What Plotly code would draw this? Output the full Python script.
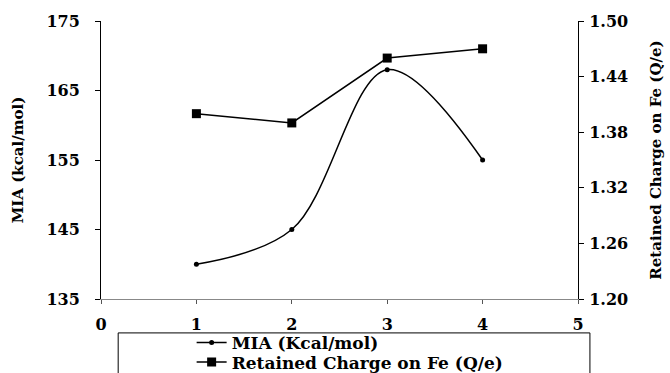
import plotly.graph_objects as go

x_vals = [1, 2, 3, 4]
mia_vals = [140, 145, 168, 155]
charge_vals = [1.40, 1.39, 1.46, 1.47]
y1_ticks = [135, 145, 155, 165, 175]
y2_ticks = [1.20, 1.26, 1.32, 1.38, 1.44, 1.50]
x_ticks = [0, 1, 2, 3, 4, 5]

FONT = "DejaVu Serif"

fig = go.Figure()
fig.add_trace(go.Scatter(
    x=x_vals, y=mia_vals, name="<b>MIA (Kcal/mol)</b>", legend="legend",
    mode="lines+markers", line=dict(color="black", width=1.5, shape="spline", smoothing=1.0),
    marker=dict(symbol="circle", size=5, color="black"),
))
fig.add_trace(go.Scatter(
    x=x_vals, y=charge_vals, name="<b>Retained Charge on Fe (Q/e)</b>", yaxis="y2", legend="legend2",
    mode="lines+markers", line=dict(color="black", width=1.5),
    marker=dict(symbol="square", size=9, color="black"),
))

tickfont = dict(family=FONT, size=16, color="black")
legfont = dict(family=FONT, size=17, color="black")

fig.update_layout(
    width=670, height=373,
    margin=dict(l=101, r=92, t=21, b=74, autoexpand=False),
    paper_bgcolor="white", plot_bgcolor="white",
    font=dict(family=FONT, color="black"),
    xaxis=dict(range=[0, 5], tickvals=x_ticks, ticktext=[f"<b>{v}</b>" for v in x_ticks],
               showgrid=False, zeroline=False, showline=True, linecolor="#888888", linewidth=1,
               ticks="outside", ticklen=4, tickcolor="#555555", tickfont=tickfont,
               ticklabelstandoff=7, automargin=False),
    yaxis=dict(range=[135, 175], tickvals=y1_ticks, ticktext=[f"<b>{v}</b>" for v in y1_ticks],
               showgrid=False, zeroline=False, showline=True, linecolor="black", linewidth=1,
               ticks="outside", ticklen=5, tickcolor="black", tickfont=tickfont,
               ticklabelstandoff=12, automargin=False,
               title=dict(text="<b>MIA (kcal/mol)</b>", font=dict(family=FONT, size=15), standoff=19)),
    yaxis2=dict(range=[1.20, 1.50], tickvals=y2_ticks, ticktext=[f"<b>{v:.2f}</b>" for v in y2_ticks],
                overlaying="y", side="right", showgrid=False, zeroline=False,
                showline=True, linecolor="black", linewidth=1,
                ticks="outside", ticklen=5, tickcolor="black", tickfont=tickfont,
                ticklabelstandoff=2, automargin=False,
                title=dict(text="<b>Retained Charge on Fe (Q/e)</b>", font=dict(family=FONT, size=15), standoff=23)),
    showlegend=True,
    legend=dict(x=0.19, y=-0.158, xanchor="left", yanchor="middle", bgcolor="rgba(0,0,0,0)",
                borderwidth=0, font=legfont, itemwidth=30),
    legend2=dict(x=0.19, y=-0.228, xanchor="left", yanchor="middle", bgcolor="rgba(0,0,0,0)",
                 borderwidth=0, font=legfont, itemwidth=30),
    shapes=[dict(type="rect", xref="paper", yref="paper", x0=0.036, x1=1.025, y0=-0.122, y1=-0.40,
                 line=dict(color="black", width=1), fillcolor="rgba(0,0,0,0)")],
)

fig.write_html("out.html", config={"displayModeBar": False},
               post_script="document.body.style.margin='0';")
